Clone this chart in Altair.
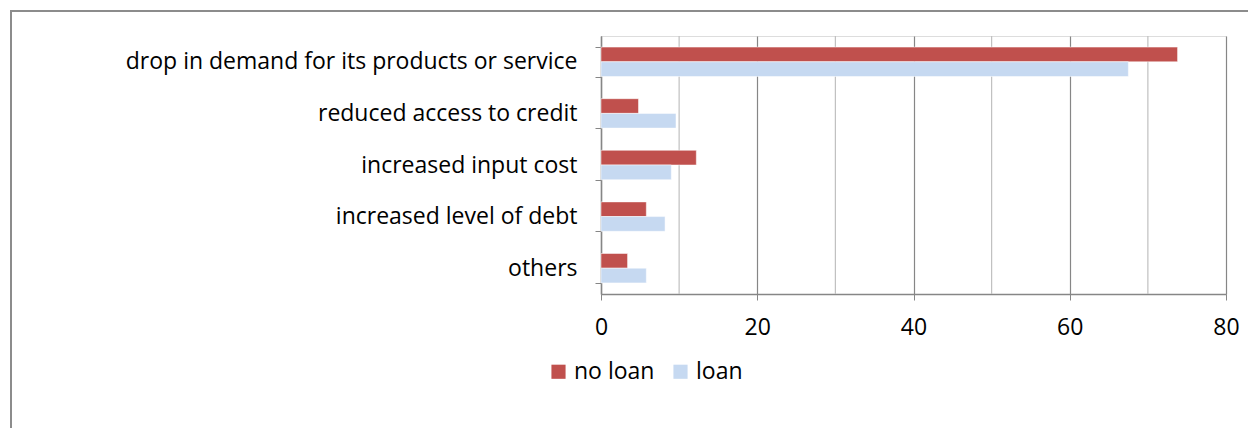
import altair as alt
import pandas as pd

categories = [
    "drop in demand for its products or service",
    "reduced access to credit",
    "increased input cost",
    "increased level of debt",
    "others",
]
series = ["no loan", "loan"]
no_loan = [73.8, 4.8, 12.2, 5.8, 3.4]
loan = [67.5, 9.6, 9.0, 8.2, 5.8]
x_ticks = [0, 20, 40, 60, 80]
minor_grid = [10, 30, 50, 70]
colors = ["#C0504D", "#C6D9F1"]

rows = []
for c, a, b in zip(categories, no_loan, loan):
    rows.append({"category": c, "series": "no loan", "value": a})
    rows.append({"category": c, "series": "loan", "value": b})
df = pd.DataFrame(rows)

FONT = "Open Sans"
FS = 23

bars = alt.Chart(df).mark_bar(stroke="white", strokeWidth=0.5).encode(
    x=alt.X("value:Q",
            scale=alt.Scale(domain=[0, 80], nice=False),
            axis=alt.Axis(values=x_ticks, title=None, grid=True, gridColor="#868686",
                          gridWidth=1.2, domainColor="#868686", domainWidth=1.5,
                          tickColor="#868686", tickSize=6, labelFontSize=FS,
                          labelFont=FONT, labelColor="black", labelPadding=16,
                          labelFlush=False)),
    y=alt.Y("category:N", sort=categories,
            scale=alt.Scale(paddingInner=0.43, paddingOuter=0.215),
            axis=alt.Axis(title=None, tickBand="extent", tickSize=6, tickColor="#868686",
                          domainColor="#868686", domainWidth=1.5, labelFontSize=FS,
                          labelFont=FONT, labelColor="black", labelPadding=18,
                          labelLimit=700)),
    yOffset=alt.YOffset("series:N", sort=series),
    color=alt.Color("series:N", sort=series,
                    scale=alt.Scale(domain=series, range=colors),
                    legend=alt.Legend(title=None, orient="none", direction="horizontal",
                                      legendX=-54, legendY=324, symbolType="square",
                                      symbolSize=200, symbolStrokeWidth=0,
                                      labelFontSize=FS, labelFont=FONT, labelColor="black",
                                      columnPadding=14, symbolOpacity=1, labelOffset=4)),
)

minor = alt.Chart(pd.DataFrame({"v": minor_grid})).mark_rule(
    color="#C0C0C0", strokeWidth=1.2).encode(x="v:Q")

frame = alt.Chart(pd.DataFrame({"a": [0]})).mark_rect(
    fill=None, stroke="#8C8C8C", strokeWidth=2).encode(
    x=alt.value(-590), x2=alt.value(700), y=alt.value(-25), y2=alt.value(500))

chart = alt.layer(frame, minor, bars).properties(
    width=625, height=258,
    autosize=alt.AutoSizeParams(type="none"),
    padding={"left": 601, "top": 36, "right": 22, "bottom": 134},
).configure_view(stroke=None).configure(background="white")

chart.save("out.html", embed_options={"renderer": "svg", "actions": False})
